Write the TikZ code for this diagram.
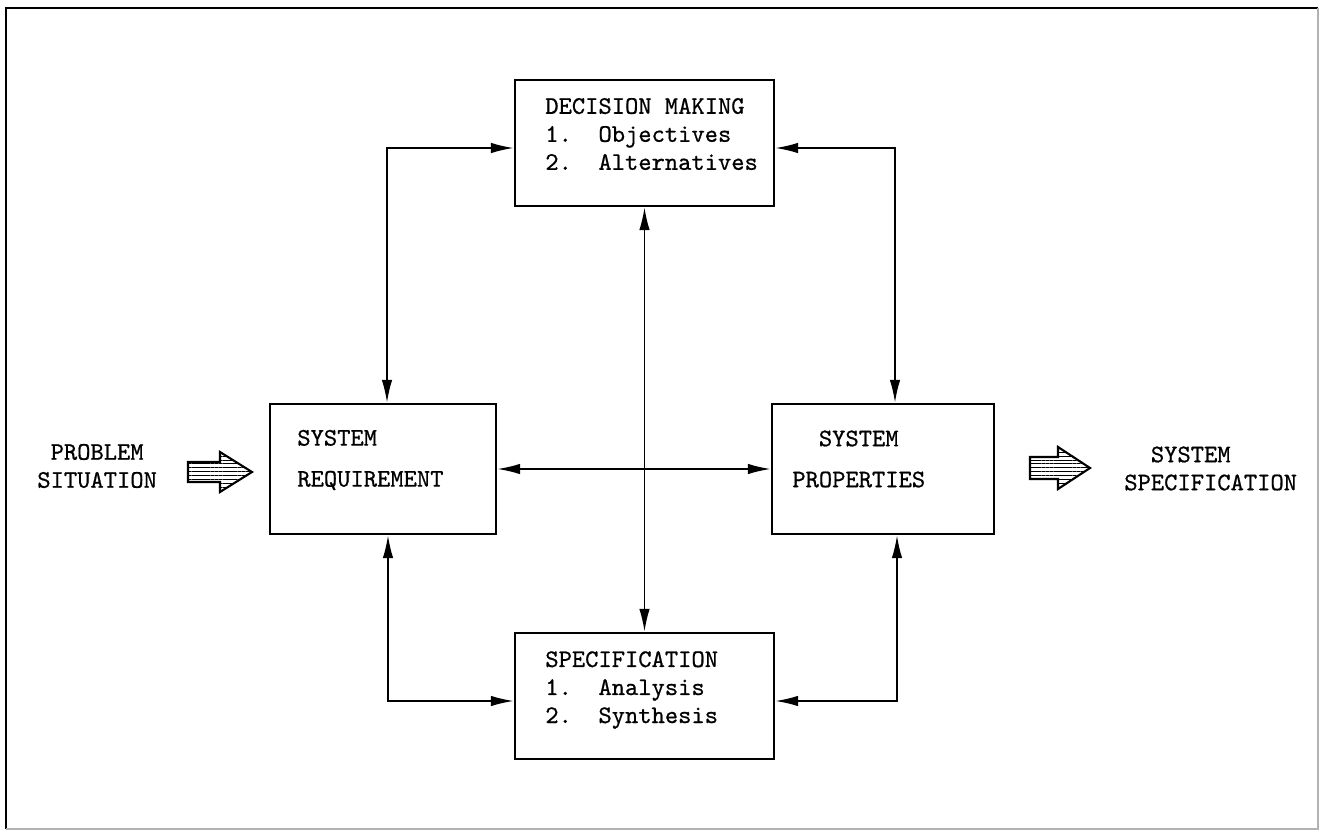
\documentclass[tikz,border=0pt]{standalone}
\usepackage{fontspec}
\usetikzlibrary{arrows.meta,patterns.meta}

\newfontfamily\typefont{lmmono10-regular.otf}[FakeBold=0.7]
\newcommand{\typewriter}{\typefont\fontsize{14.4}{15.94}\selectfont}

\tikzset{
  block/.style={draw, line width=1.6pt, inner sep=0pt},
  link/.style={line width=0.9pt, {Latex[length=13pt,width=6pt]}-{Latex[length=13pt,width=6pt]}},
  txt/.style={inner sep=0pt, align=left, font=\typewriter},
  fatarrow/.style={line width=1.2pt, pattern={Lines[angle=0,distance=2.2pt,line width=0.45pt]}}
}

\begin{document}
\begin{tikzpicture}[x=0.02cm, y=-0.02cm]
\useasboundingbox (0,0) rectangle (1320,831);

%frame
\draw[line width=1.5pt] (6,829) -- (6,8) -- (1318,8);
\draw[gray!60, line width=0.6pt] (1318,8) -- (1318,829) -- (6,829);

%blocks
\node[block, minimum width=5.18cm, minimum height=2.52cm] (dm) at (644.5,143) {};
\node[block, minimum width=5.18cm, minimum height=2.52cm] (spec) at (644.5,696) {};
\node[block, minimum width=4.52cm, minimum height=2.6cm] (sr) at (383,469) {};
\node[block, minimum width=4.44cm, minimum height=2.6cm] (sp) at (883,469) {};

%block texts
\node[txt, anchor=west] (dmtext) at (545,134) {DECISION MAKING\\1.\ \ Objectives\\2.\ \ Alternatives};
\node[txt, anchor=west] (spectext) at (545,690) {SPECIFICATION\\1.\ \ Analysis\\2.\ \ Synthesis};
\node[txt, anchor=west] (srtext) at (297,460) {SYSTEM\\[7.4pt]REQUIREMENT};
\node[txt, anchor=west] (sptext) at (792,459) {\phantom{MM}SYSTEM\\[7.4pt]PROPERTIES};

%input and output
\node[txt, anchor=west] (problem) at (37,466) {\phantom{M}PROBLEM\\SITUATION};
\node[txt, anchor=west] (result) at (1124,468.5) {\phantom{MM}SYSTEM\\SPECIFICATION};
\draw[fatarrow] (188,462) -- ++(32,0) -- ++(0,-10) -- ++(32,20) -- ++(-32,20) -- ++(0,-10) -- ++(-32,0) -- cycle;
\draw[fatarrow] (1030,457) -- ++(28,0) -- ++(0,-10) -- ++(32,21) -- ++(-32,21) -- ++(0,-10) -- ++(-28,0) -- cycle;

%corners of the loop
\coordinate (tl) at (387,148);
\coordinate (tr) at (895,148);
\coordinate (bl) at (388,701);
\coordinate (br) at (897,701);

%links
\draw[link] (dm.west |- tl) -- (tl) -- (sr.north -| tl);
\draw[link] (dm.east |- tr) -- (tr) -- (sp.north -| tr);
\draw[link] (sr.south -| bl) -- (bl) -- (spec.west |- bl);
\draw[link] (sp.south -| br) -- (br) -- (spec.east |- br);
\draw[link] (dm.south) -- (spec.north);
\draw[link] (sr.east) -- (sp.west);
\end{tikzpicture}
\end{document}
